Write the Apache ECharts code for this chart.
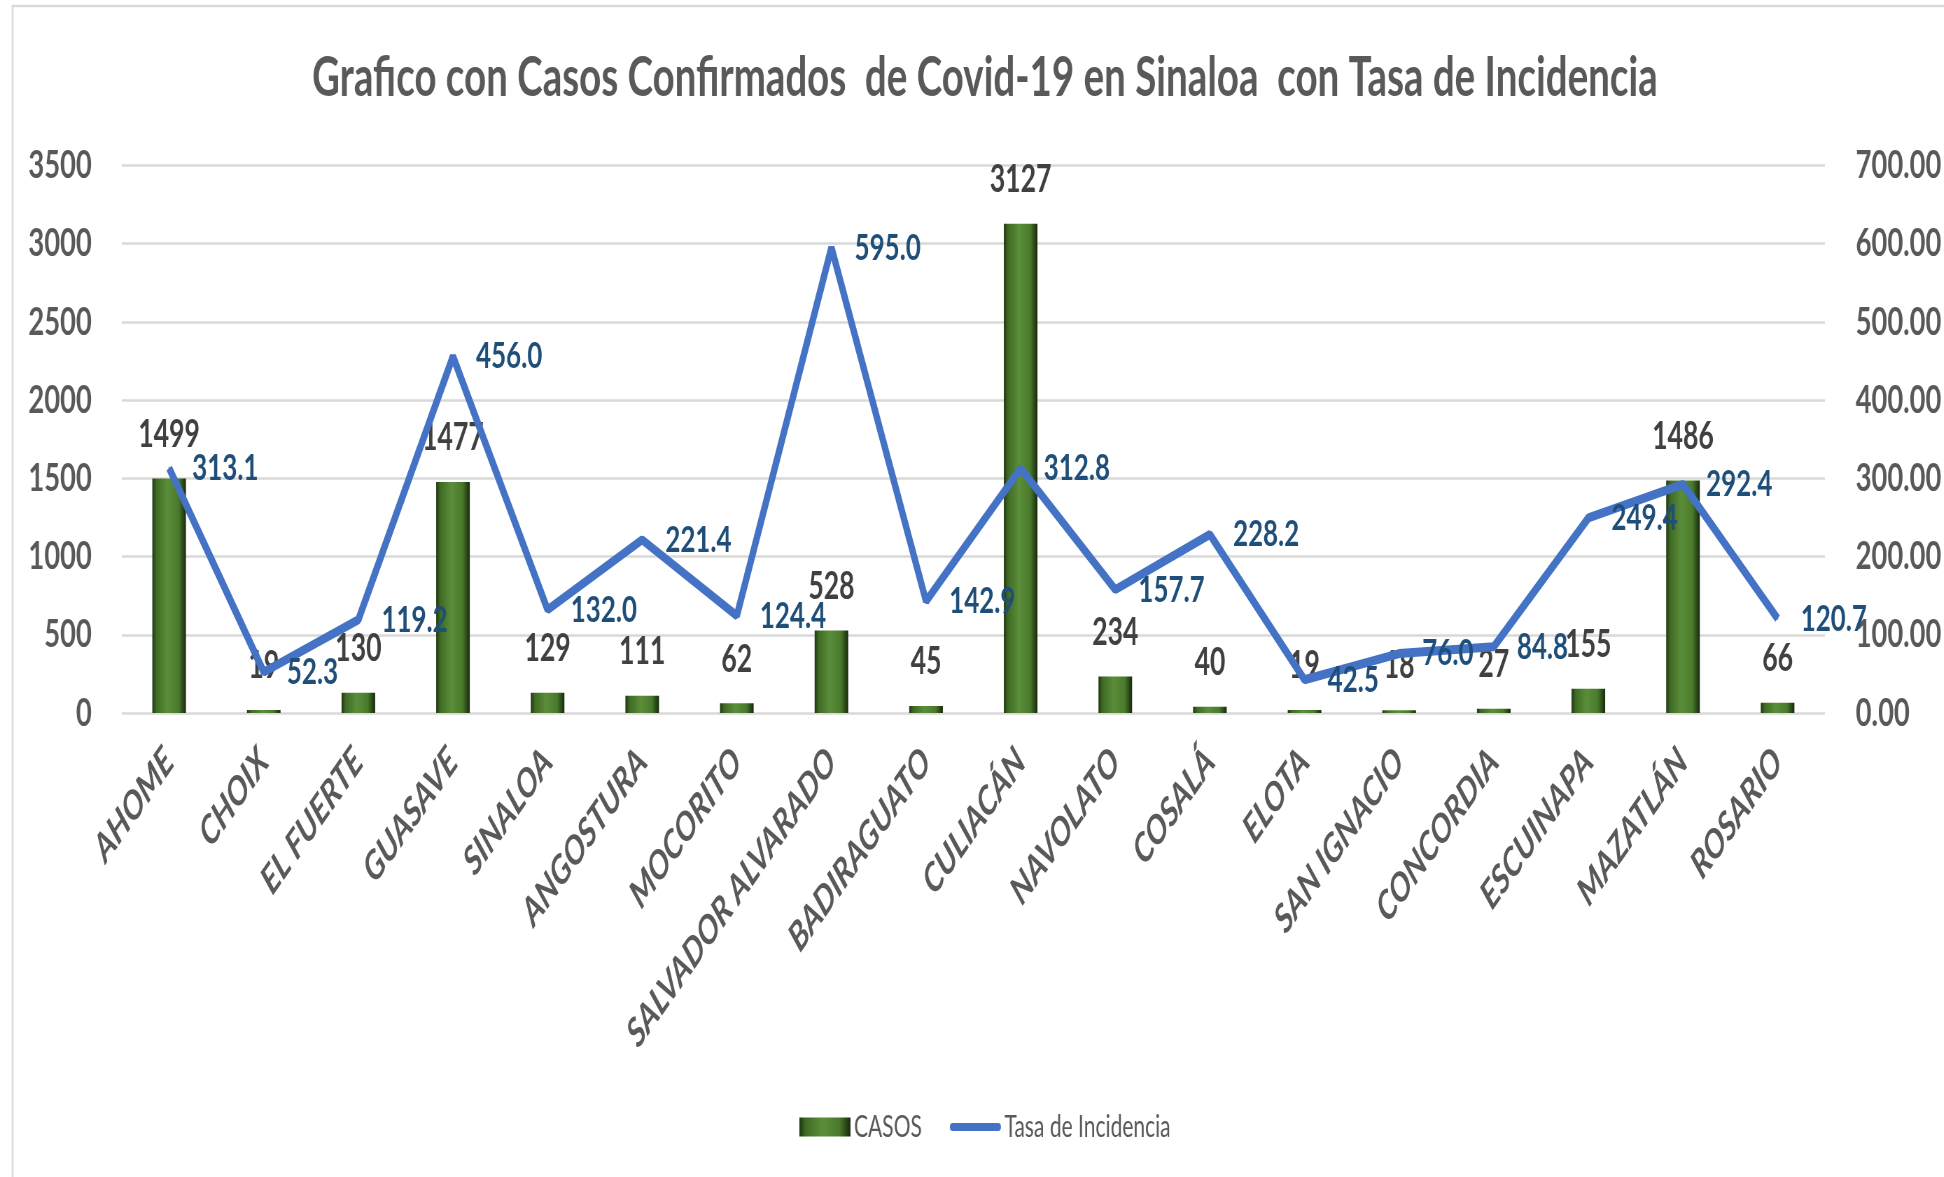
<!DOCTYPE html>
<html>
<head>
<meta charset="utf-8">
<script src="https://cdn.jsdelivr.net/npm/echarts@6/dist/echarts.min.js"></script>
<style>
html,body{margin:0;padding:0;background:#fff;overflow:hidden;}
#wrap{width:1944px;height:1177px;overflow:hidden;position:relative;}
#c{width:2777px;height:1177px;transform:scaleX(0.7);transform-origin:0 0;position:absolute;left:0;top:0;}
</style>
</head>
<body>
<div id="wrap"><div id="c"></div></div>
<script>
const categories = ['AHOME','CHOIX','EL FUERTE','GUASAVE','SINALOA','ANGOSTURA','MOCORITO','SALVADOR ALVARADO','BADIRAGUATO','CULIACÁN','NAVOLATO','COSALÁ','ELOTA','SAN IGNACIO','CONCORDIA','ESCUINAPA','MAZATLÁN','ROSARIO'];
const casos = [1499,19,130,1477,129,111,62,528,45,3127,234,40,19,18,27,155,1486,66];
const tasa = [313.1,52.3,119.2,456.0,132.0,221.4,124.4,595.0,142.9,312.8,157.7,228.2,42.5,76.0,84.8,249.4,292.4,120.7];
const leftTicks = {min:0, max:3500, interval:500};
const rightTicks = {min:0, max:700, interval:100};

const FONT = 'Lato, "Open Sans", "Liberation Sans", sans-serif';
const chart = echarts.init(document.getElementById('c'), null, {width:2777, height:1177});

const barGrad = new echarts.graphic.LinearGradient(0,0,1,0,[
  {offset:0, color:'#1e3511'},
  {offset:0.12, color:'#3f6a24'},
  {offset:0.45, color:'#5b8e3a'},
  {offset:0.78, color:'#4a7a2c'},
  {offset:1, color:'#16280b'}
]);

chart.setOption({
  backgroundColor:'#ffffff',
  animation:false,
  title:{
    text:'Grafico con Casos Confirmados  de Covid-19 en Sinaloa  con Tasa de Incidencia',
    left:1402, top:46, textAlign:'center',
    textStyle:{fontFamily:FONT, fontWeight:'bold', fontSize:55, color:'#595959'}
  },
  graphic:[{
    type:'rect', shape:{x:18, y:6, width:3000, height:1400},
    style:{fill:'none', stroke:'#d9d9d9', lineWidth:2.6}, silent:true, z:-1
  }],
  legend:{
    left:1137, top:1107,
    itemWidth:73, itemHeight:19, itemGap:40,
    textStyle:{fontFamily:FONT, fontSize:30, color:'#595959'},
    data:[
      {name:'CASOS', icon:'rect'},
      {name:'Tasa de Incidencia', icon:'path://M0,0h0.01v0.01h-0.01z M4,5.5h65a4,4 0 0 1 0,8h-65a4,4 0 0 1 0,-8z M72.99,18.99h0.01v0.01h-0.01z', itemStyle:{color:'#4472C4'}}
    ]
  },
  grid:{left:174, right:170, top:165.5, bottom:464, containLabel:false},
  xAxis:{
    type:'category', data:categories,
    axisLine:{show:false}, axisTick:{show:false},
    axisLabel:{interval:0, rotate:45, margin:42, fontFamily:FONT, fontWeight:'bold', fontStyle:'italic', fontSize:40, color:'#595959'}
  },
  yAxis:[{
    type:'value', min:leftTicks.min, max:leftTicks.max, interval:leftTicks.interval,
    axisLine:{show:false}, axisTick:{show:false},
    splitLine:{lineStyle:{color:'#d9d9d9', width:2.6}},
    axisLabel:{margin:43, fontFamily:FONT, fontWeight:'bold', fontSize:39, color:'#595959', formatter:v=>String(v)}
  },{
    type:'value', min:rightTicks.min, max:rightTicks.max, interval:rightTicks.interval,
    axisLine:{show:false}, axisTick:{show:false}, splitLine:{show:false},
    axisLabel:{margin:44, fontFamily:FONT, fontWeight:'bold', fontSize:39, color:'#595959', formatter:v=>v.toFixed(2)}
  }],
  series:[{
    name:'CASOS', type:'bar', data:casos, barWidth:48, yAxisIndex:0,
    itemStyle:{color:barGrad},
    label:{show:true, position:'top', distance:25, fontFamily:FONT, fontWeight:'bold', fontSize:38, color:'#404040'},
    z:2
  },{
    name:'Tasa de Incidencia', type:'line', data:tasa, yAxisIndex:1,
    symbol:'circle', symbolSize:2, showSymbol:true,
    lineStyle:{color:'#4472C4', width:9},
    itemStyle:{color:'#4472C4'},
    label:{show:true, position:'right', distance:32, offset:[0,7], fontFamily:FONT, fontWeight:'bold', fontSize:37, color:'#1F4E79', formatter:p=>p.value.toFixed(1)},
    labelLayout:{hideOverlap:false},
    z:3
  }]
});
</script>
</body>
</html>
